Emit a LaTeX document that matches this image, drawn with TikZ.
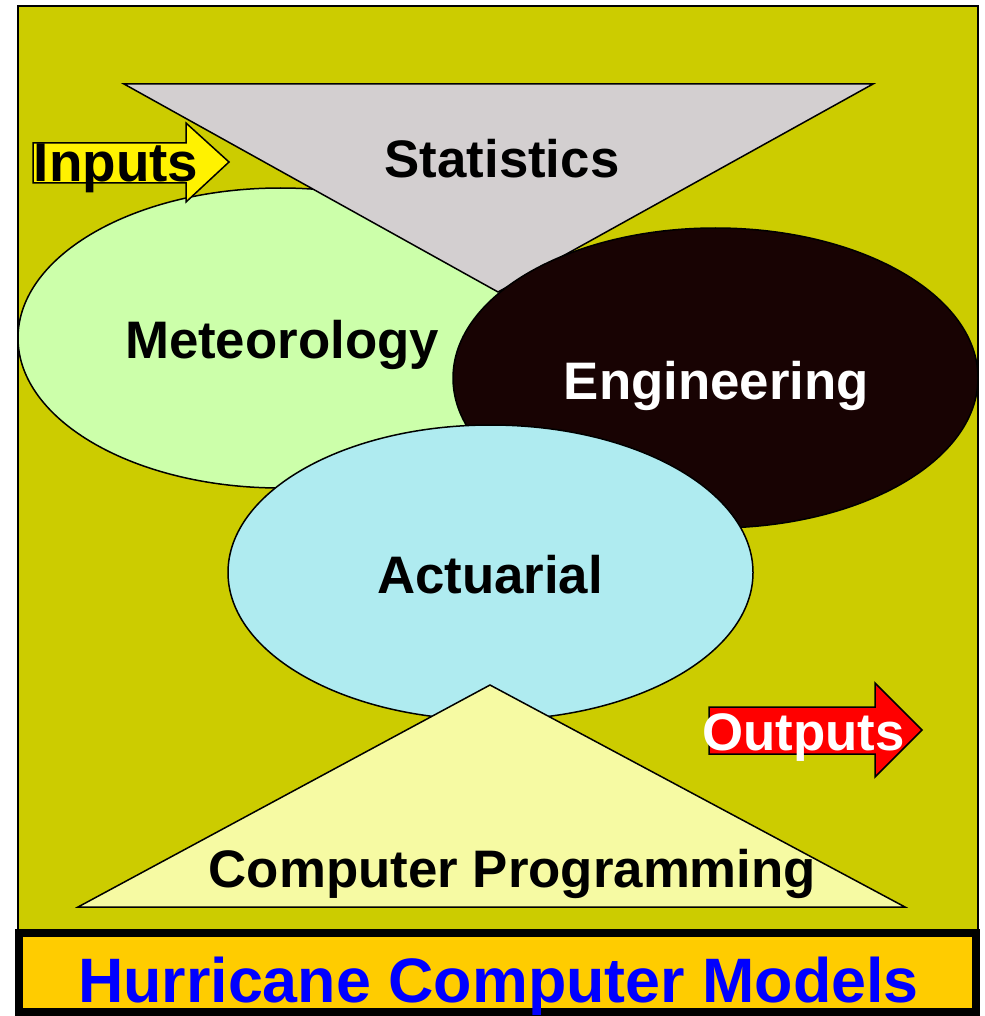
\documentclass[tikz,border=0pt]{standalone}
\usepackage{fontspec}
\setmainfont{Liberation Sans}
\usetikzlibrary{positioning,shapes.geometric}

\definecolor{bgolive}{RGB}{204,204,0}
\definecolor{statgray}{RGB}{211,207,208}
\definecolor{meteogreen}{RGB}{204,255,170}
\definecolor{engdark}{RGB}{24,3,3}
\definecolor{actblue}{RGB}{175,235,240}
\definecolor{progyellow}{RGB}{246,250,163}
\definecolor{titlegold}{RGB}{255,204,0}

\tikzset{
    blob/.style={ellipse,draw,line width=0.75pt,minimum width=262.5pt,minimum height=150pt,inner sep=0pt},
    lbl/.style={font=\fontsize{26.4}{30}\selectfont\bfseries,anchor=base,inner sep=0pt},
    outline/.style={draw,line width=0.75pt}
}

\begin{document}
\begin{tikzpicture}[x=0.5pt,y=-0.5pt]
\useasboundingbox (0,0) rectangle (984,1016);

\draw[outline,fill=bgolive] (18,6) rectangle (978,930);

\node[blob,fill=meteogreen] (meteo) at (280.5,338) {};
\draw[outline,fill=statgray] (124,84) -- (873,84) -- (498,292) -- cycle;
\node[blob,fill=engdark] (eng) at (715.5,378) {};
\node[blob,fill=actblue,minimum height=147.5pt] (act) at (490.5,572.5) {};
\draw[outline,fill=progyellow] (78,907) -- (905,907) -- (490,685) -- cycle;

\draw[outline,fill=yellow] (33,143) -- (186,143) -- (186,123) -- (229,162) -- (186,202) -- (186,183) -- (33,183) -- cycle;
\draw[outline,fill=red] (709,707) -- (875,707) -- (875,683) -- (922,730) -- (875,777) -- (875,754) -- (709,754) -- cycle;

\draw[line width=4pt,fill=titlegold] (18.5,933) rectangle (976,1012);

\node[lbl] (statText) at (502,177) {Statistics};
\node[lbl] (meteoText) at (282,358) {Meteorology};
\node[lbl,text=white] (engText) at (716.5,399) {Engineering};
\node[lbl] (actText) at (490,593) {Actuarial};
\node[lbl] (progText) at (512.5,887) {Computer Programming};
\node[lbl,font=\fontsize{27.4}{30}\selectfont\bfseries] (inText) at (116,182) {Inputs};
\node[lbl,text=white] (outText) at (803.5,750) {Outputs};
\node[lbl,text=blue,font=\fontsize{31.4}{36}\selectfont\bfseries] (titleText) at (498.5,1002) {Hurricane Computer Models};
\end{tikzpicture}
\end{document}
